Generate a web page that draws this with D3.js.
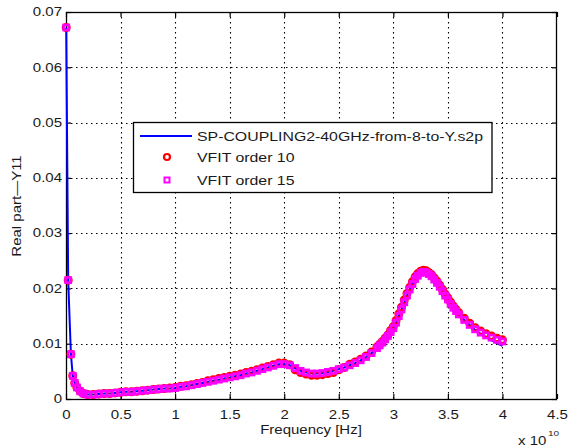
<!DOCTYPE html>
<html>
<head>
<meta charset="utf-8">
<script src="https://cdn.jsdelivr.net/npm/d3@7"></script>
<style>
  body { margin: 0; background: #fff; }
  text { font-family: "Liberation Sans", Arial, Helvetica, sans-serif; fill: #1a1a1a; }
</style>
</head>
<body>
<svg id="chart" width="568" height="447"></svg>
<script>
// Frequency samples, in units of 1e10 Hz
const freq = [
  0.002, 0.02, 0.045, 0.062, 0.08, 0.1, 0.13, 0.16,
  0.2, 0.25, 0.3, 0.35, 0.4, 0.45, 0.5, 0.55, 0.6, 0.65,
  0.7, 0.75, 0.8, 0.85, 0.9, 0.95, 1.0, 1.05, 1.1, 1.15,
  1.2, 1.25, 1.3, 1.35, 1.4, 1.45, 1.5, 1.55, 1.6, 1.65,
  1.7, 1.75, 1.8, 1.85, 1.9, 1.95, 2.0, 2.05, 2.1, 2.15,
  2.2, 2.25, 2.3, 2.35, 2.4, 2.45, 2.5, 2.55, 2.6, 2.65,
  2.7, 2.75, 2.8,
  2.85, 2.875, 2.9, 2.925, 2.95, 2.975, 3.0, 3.025, 3.05, 3.075,
  3.1, 3.125, 3.15, 3.175, 3.2, 3.225, 3.25, 3.275, 3.3, 3.325,
  3.35, 3.375, 3.4, 3.425, 3.45, 3.475, 3.5, 3.525, 3.55, 3.575, 3.6,
  3.65, 3.7, 3.75, 3.8, 3.85, 3.9, 3.95, 4.0
];

// Real part of Y11 from the measured .s2p file
const measured = [
  0.0672, 0.0215, 0.0081, 0.0042, 0.0029, 0.0021, 0.0014, 0.0010,
  0.0008, 0.0008, 0.0009, 0.0010, 0.0010, 0.0011, 0.0012, 0.0013, 0.0013, 0.0014,
  0.0015, 0.0016, 0.0017, 0.0018, 0.0019, 0.0019, 0.0020, 0.0022, 0.0023, 0.0025,
  0.0027, 0.0029, 0.0031, 0.0033, 0.0035, 0.0037, 0.0039, 0.0041, 0.0043, 0.0046,
  0.0048, 0.0051, 0.0054, 0.0057, 0.0060, 0.0063, 0.0063, 0.0061, 0.0056, 0.0051,
  0.0048, 0.0046, 0.0046, 0.0047, 0.0049, 0.0051, 0.0054, 0.0057, 0.0061, 0.0065,
  0.0070, 0.0076, 0.0083,
  0.0092, 0.0097, 0.0102, 0.0108, 0.0114, 0.0121, 0.0128, 0.0138, 0.0150, 0.0162,
  0.0175, 0.0187, 0.0198, 0.0208, 0.0217, 0.0223, 0.0228, 0.0230, 0.0229, 0.0226,
  0.0222, 0.0216, 0.0210, 0.0203, 0.0195, 0.0187, 0.0180, 0.0172, 0.0165, 0.0159, 0.0153,
  0.0143, 0.0134, 0.0125, 0.0118, 0.0112, 0.0106, 0.0101, 0.0096
];

// Vector-fitting model, order 10
const vfit10 = [
  0.0672, 0.0215, 0.0081, 0.0042, 0.0029, 0.0021, 0.0014, 0.0010,
  0.0008, 0.0008, 0.0009, 0.0010, 0.0010, 0.0011, 0.0012, 0.0013, 0.0013, 0.0014,
  0.0015, 0.0016, 0.0017, 0.0018, 0.0019, 0.0020, 0.0021, 0.0023, 0.0024, 0.0026,
  0.0028, 0.0030, 0.0033, 0.0035, 0.0037, 0.0039, 0.0041, 0.0043, 0.0045, 0.0048,
  0.0050, 0.0053, 0.0056, 0.0059, 0.0062, 0.0065, 0.0065, 0.0062, 0.0053, 0.0048,
  0.0045, 0.0043, 0.0043, 0.0044, 0.0046, 0.0048, 0.0053, 0.0057, 0.0063, 0.0067,
  0.0072, 0.0078, 0.0085,
  0.0094, 0.0099, 0.0104, 0.0110, 0.0116, 0.0124, 0.0131, 0.0142, 0.0154, 0.0166,
  0.0179, 0.0191, 0.0202, 0.0212, 0.0221, 0.0227, 0.0231, 0.0233, 0.0232, 0.0229,
  0.0225, 0.0219, 0.0213, 0.0206, 0.0198, 0.0190, 0.0183, 0.0175, 0.0168, 0.0162, 0.0156,
  0.0146, 0.0137, 0.0129, 0.0123, 0.0118, 0.0114, 0.0110, 0.0107
];

// Vector-fitting model, order 15
const vfit15 = [
  0.0672, 0.0215, 0.0081, 0.0042, 0.0029, 0.0021, 0.0014, 0.0010,
  0.0008, 0.0008, 0.0009, 0.0010, 0.0010, 0.0011, 0.0012, 0.0013, 0.0013, 0.0014,
  0.0015, 0.0016, 0.0017, 0.0018, 0.0019, 0.0019, 0.0020, 0.0022, 0.0023, 0.0025,
  0.0027, 0.0029, 0.0031, 0.0033, 0.0035, 0.0037, 0.0039, 0.0041, 0.0043, 0.0046,
  0.0048, 0.0051, 0.0054, 0.0057, 0.0060, 0.0063, 0.0063, 0.0061, 0.0056, 0.0051,
  0.0048, 0.0046, 0.0046, 0.0047, 0.0049, 0.0051, 0.0054, 0.0057, 0.0061, 0.0065,
  0.0070, 0.0076, 0.0083,
  0.0092, 0.0097, 0.0102, 0.0108, 0.0114, 0.0121, 0.0128, 0.0138, 0.0150, 0.0162,
  0.0175, 0.0187, 0.0198, 0.0208, 0.0217, 0.0223, 0.0228, 0.0230, 0.0229, 0.0226,
  0.0222, 0.0216, 0.0210, 0.0203, 0.0195, 0.0187, 0.0180, 0.0172, 0.0165, 0.0159, 0.0153,
  0.0143, 0.0134, 0.0126, 0.0120, 0.0115, 0.0111, 0.0107, 0.0104
];

const xTicks = [0, 0.5, 1, 1.5, 2, 2.5, 3, 3.5, 4, 4.5];
const yTicks = [0, 0.01, 0.02, 0.03, 0.04, 0.05, 0.06, 0.07];
const legendLabels = ["SP-COUPLING2-40GHz-from-8-to-Y.s2p", "VFIT order 10", "VFIT order 15"];
const xLabel = "Frequency [Hz]";
const yLabel = "Real part\u2014Y11";

const W = 568, H = 447;
const margin = { left: 66, right: 11, top: 12, bottom: 48 };
const x0 = margin.left, x1 = W - margin.right;
const y0 = H - margin.bottom, y1 = margin.top;
const SX = 1.25;       // horizontal text stretch
const FS = 12;         // font size
const LSX = 1.27;      // legend text stretch
const LFS = 12.5;      // legend font size

const svg = d3.select("#chart");
const x = d3.scaleLinear().domain([0, 4.5]).range([x0, x1]);
const y = d3.scaleLinear().domain([0, 0.07]).range([y0, y1]);

// dotted grid
const grid = svg.append("g").attr("stroke", "#000").attr("stroke-width", 1.1)
  .attr("stroke-dasharray", "1.5,3.5");
grid.selectAll("line.gx").data(xTicks.slice(1, -1)).join("line")
  .attr("x1", d => Math.round(x(d)) + 0.5).attr("x2", d => Math.round(x(d)) + 0.5)
  .attr("y1", y1).attr("y2", y0);
grid.selectAll("line.gy").data(yTicks.slice(1, -1)).join("line")
  .attr("y1", d => Math.round(y(d)) + 0.5).attr("y2", d => Math.round(y(d)) + 0.5)
  .attr("x1", x0).attr("x2", x1);

// axes with inward ticks
function styleAxis(g) {
  g.select(".domain").remove();
  g.selectAll(".tick line").attr("stroke", "#000").attr("stroke-width", 1.2);
}
const gx = svg.append("g").attr("transform", `translate(0,${y0})`)
  .call(d3.axisBottom(x).tickValues(xTicks).tickSizeInner(-5).tickSizeOuter(0)
    .tickPadding(11).tickFormat(d3.format("~g")))
  .call(styleAxis);
gx.selectAll(".tick text").attr("font-size", FS).attr("fill", "#1a1a1a")
  .attr("transform", `scale(${SX},1)`);

const gy = svg.append("g").attr("transform", `translate(${x0},0)`)
  .call(d3.axisLeft(y).tickValues(yTicks).tickSizeInner(-5).tickSizeOuter(0)
    .tickPadding(4).tickFormat(d3.format("~g")))
  .call(styleAxis);
gy.selectAll(".tick text").attr("font-size", FS).attr("fill", "#1a1a1a")
  .attr("x", -4 / SX).attr("transform", `scale(${SX},1)`);

svg.append("g").attr("transform", `translate(0,${y1})`)
  .call(d3.axisTop(x).tickValues(xTicks).tickSizeInner(-5).tickSizeOuter(0).tickFormat(""))
  .call(styleAxis);
svg.append("g").attr("transform", `translate(${x1},0)`)
  .call(d3.axisRight(y).tickValues(yTicks).tickSizeInner(-5).tickSizeOuter(0).tickFormat(""))
  .call(styleAxis);

// axes box
svg.append("rect").attr("x", x0 + 0.5).attr("y", y1 + 0.5)
  .attr("width", x1 - x0 - 1).attr("height", y0 - y1)
  .attr("fill", "none").attr("stroke", "#000").attr("stroke-width", 1.3);

// series
const pts = a => freq.map((f, i) => [f, a[i]]);

svg.append("path").datum(pts(measured))
  .attr("fill", "none").attr("stroke", "#0000ff").attr("stroke-width", 2)
  .attr("d", d3.line().x(d => x(d[0])).y(d => y(d[1])));

svg.append("g").selectAll("circle").data(pts(vfit10)).join("circle")
  .attr("cx", d => x(d[0])).attr("cy", d => y(d[1])).attr("r", 3.3)
  .attr("fill", "none").attr("stroke", "#ff0000").attr("stroke-width", 2.4);

svg.append("g").selectAll("rect").data(pts(vfit15)).join("rect")
  .attr("x", d => x(d[0]) - 2.6).attr("y", d => y(d[1]) - 2.6)
  .attr("width", 5.2).attr("height", 5.2)
  .attr("fill", "none").attr("stroke", "#ff00ff").attr("stroke-width", 2.6);

// axis labels
svg.append("text").attr("transform", `translate(311,434) scale(${SX},1)`)
  .attr("text-anchor", "middle").attr("font-size", FS).text(xLabel);
svg.append("text").attr("transform", `translate(21,206) rotate(-90) scale(${SX},1)`)
  .attr("text-anchor", "middle").attr("font-size", FS).text(yLabel);
const mult = svg.append("g");
mult.append("text").attr("transform", `translate(518,445) scale(${SX},1)`)
  .attr("font-size", FS).text("x 10");
mult.append("text").attr("transform", `translate(548,436) scale(${SX},1)`)
  .attr("font-size", 8).text("10");

// legend
const lg = svg.append("g");
const box = lg.append("rect").attr("x", 133.5).attr("y", 122.5).attr("height", 70)
  .attr("fill", "#fff").attr("stroke", "#000").attr("stroke-width", 1.3);
const rowY = [136, 157, 180];
lg.append("line").attr("x1", 140).attr("x2", 192).attr("y1", rowY[0]).attr("y2", rowY[0])
  .attr("stroke", "#0000ff").attr("stroke-width", 2);
lg.append("circle").attr("cx", 167).attr("cy", rowY[1]).attr("r", 3)
  .attr("fill", "none").attr("stroke", "#ff0000").attr("stroke-width", 2.2);
lg.append("rect").attr("x", 164.5).attr("y", rowY[2] - 2.5).attr("width", 5).attr("height", 5)
  .attr("fill", "none").attr("stroke", "#ff00ff").attr("stroke-width", 2);
const labs = lg.selectAll("text.lab").data(legendLabels).join("text")
  .attr("transform", (d, i) => `translate(197,${rowY[i] + 4.5}) scale(${LSX},1)`)
  .attr("font-size", LFS).text(d => d);
const textRight = 197 + d3.max(labs.nodes(), n => n.getComputedTextLength()) * LSX;
box.attr("width", textRight + 9 - 133.5);
</script>
</body>
</html>
